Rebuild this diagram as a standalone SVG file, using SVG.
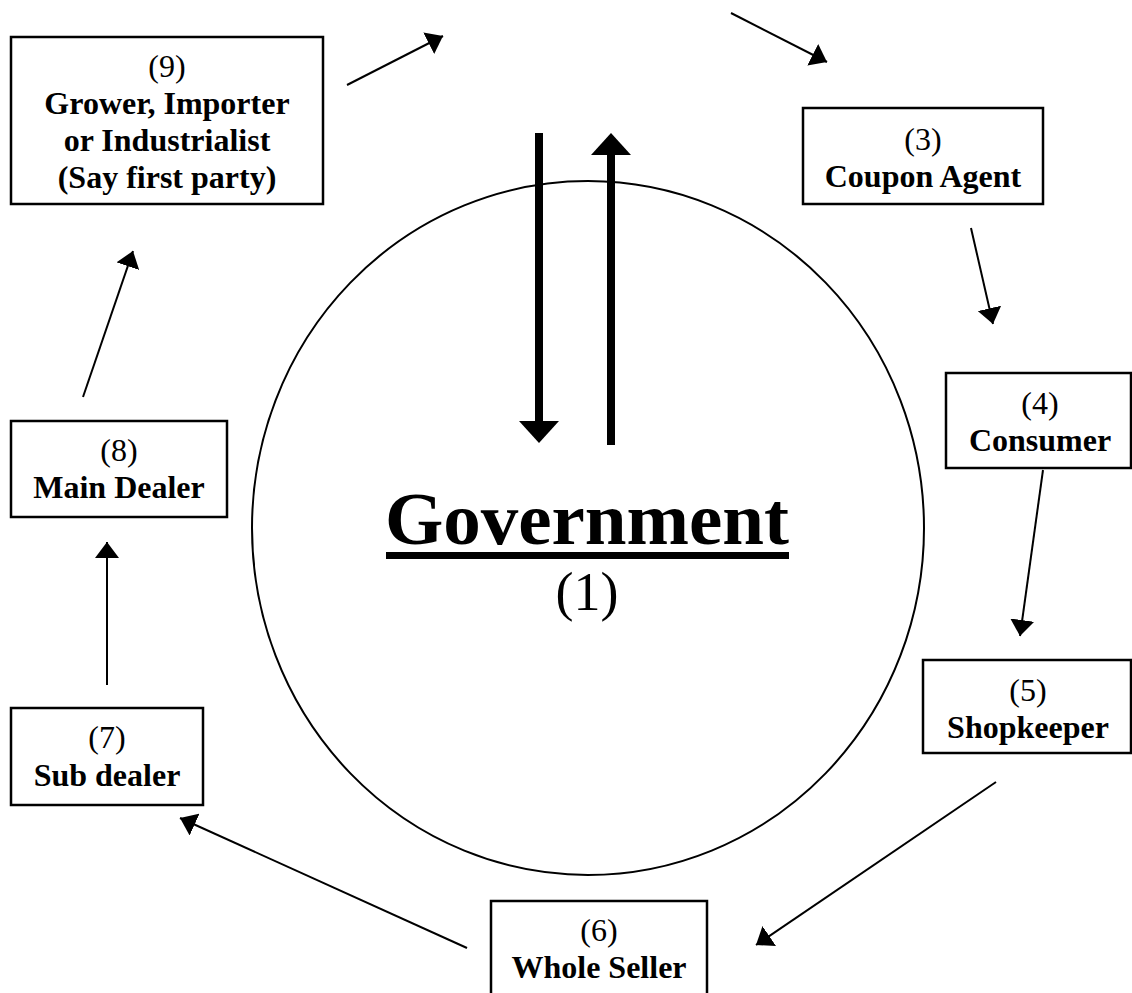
<svg xmlns="http://www.w3.org/2000/svg" width="1132" height="993" viewBox="0 0 1132 993">
<style>
.box{fill:#fff;stroke:#000;stroke-width:2.5}
.num{font-family:"Liberation Serif","Times New Roman",serif;font-size:32px;text-anchor:middle;fill:#000}
.lbl{font-family:"Liberation Serif","Times New Roman",serif;font-size:32px;font-weight:bold;text-anchor:middle;fill:#000}
.thin{stroke:#000;stroke-width:2;fill:none;marker-end:url(#ah)}
.thick{stroke:#000;stroke-width:8;fill:none;marker-end:url(#ahb)}
</style>
<defs>
<marker id="ah" markerUnits="userSpaceOnUse" viewBox="0 0 16 24" markerWidth="16" markerHeight="24" refX="16" refY="12" orient="auto">
<path d="M0,0 L16,12 L0,24 z" fill="#000"/>
</marker>
<marker id="ahb" markerUnits="userSpaceOnUse" viewBox="0 0 22 40" markerWidth="22" markerHeight="40" refX="0" refY="20" orient="auto">
<path d="M0,0 L22,20 L0,40 z" fill="#000"/>
</marker>
</defs>
<rect width="1132" height="993" fill="#fff"/>
<g id="government">
<ellipse cx="588" cy="528" rx="336" ry="347" fill="none" stroke="#000" stroke-width="2"/>
<text x="587" y="544" style="font-family:'Liberation Serif','Times New Roman',serif;font-size:75px;font-weight:bold;text-anchor:middle">Government</text>
<rect x="386" y="552" width="403" height="7" fill="#000"/>
<text x="587" y="610" style="font-family:'Liberation Serif','Times New Roman',serif;font-size:54px;text-anchor:middle">(1)</text>
</g>
<g id="connectors">
<line class="thin" x1="347" y1="85" x2="443" y2="36"/>
<line class="thin" x1="731" y1="13" x2="827" y2="62"/>
<line class="thin" x1="971" y1="228" x2="993" y2="324"/>
<line class="thin" x1="1043" y1="470" x2="1020" y2="636"/>
<line class="thin" x1="996" y1="782" x2="756" y2="945"/>
<line class="thin" x1="467" y1="948" x2="180" y2="818"/>
<line class="thin" x1="107" y1="685" x2="107" y2="542"/>
<line class="thin" x1="83" y1="397" x2="133" y2="251"/>
<line class="thick" x1="539" y1="133" x2="539" y2="421"/>
<line class="thick" x1="611" y1="445" x2="611" y2="155"/>
</g>
<g id="node9">
<rect class="box" x="11" y="37" width="312" height="167"/>
<text class="num" x="167" y="77">(9)</text>
<text class="lbl" x="167" y="114">Grower, Importer</text>
<text class="lbl" x="167" y="151">or Industrialist</text>
<text class="lbl" x="167" y="188">(Say first party)</text>
</g>
<g id="node3">
<rect class="box" x="803" y="108" width="240" height="96"/>
<text class="num" x="923" y="150">(3)</text>
<text class="lbl" x="923" y="187">Coupon Agent</text>
</g>
<g id="node4">
<rect class="box" x="946" y="373" width="185" height="95"/>
<text class="num" x="1040" y="414">(4)</text>
<text class="lbl" x="1040" y="451">Consumer</text>
</g>
<g id="node5">
<rect class="box" x="923" y="660" width="208" height="93"/>
<text class="num" x="1028" y="701">(5)</text>
<text class="lbl" x="1028" y="738">Shopkeeper</text>
</g>
<g id="node6">
<rect class="box" x="491" y="901" width="216" height="110"/>
<text class="num" x="599" y="941">(6)</text>
<text class="lbl" x="599" y="978">Whole Seller</text>
</g>
<g id="node7">
<rect class="box" x="11" y="708" width="192" height="97"/>
<text class="num" x="107" y="748">(7)</text>
<text class="lbl" x="107" y="786">Sub dealer</text>
</g>
<g id="node8">
<rect class="box" x="11" y="421" width="216" height="96"/>
<text class="num" x="119" y="461">(8)</text>
<text class="lbl" x="119" y="498">Main Dealer</text>
</g>
</svg>
